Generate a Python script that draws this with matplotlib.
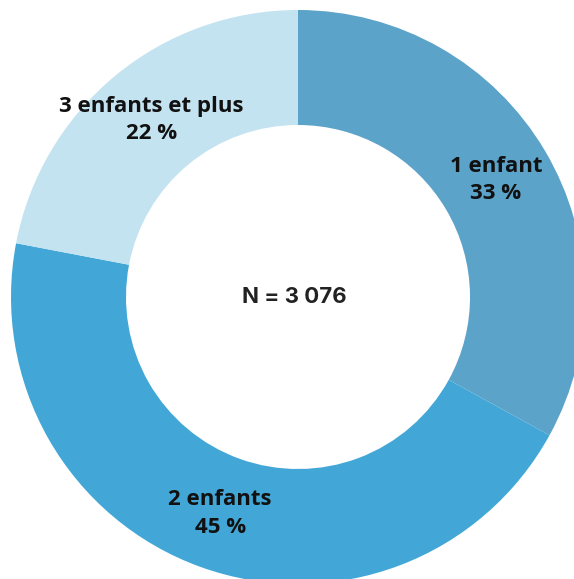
import numpy as np
import matplotlib.pyplot as plt

# data
categories = ["1 enfant", "2 enfants", "3 enfants et plus"]
shares = [33, 45, 22]
pct_labels = ["33 %", "45 %", "22 %"]
total_n = "N = 3 076"

colors = ["#5CA3CA", "#42A7D7", "#C4E3F0"]

W, H = 574, 579
CX, CY = 298, 297      # donut centre in pixels (from top-left)
R_OUT = 287
R_IN = 172

fig = plt.figure(figsize=(W / 100, H / 100), dpi=100, facecolor="white")
ax = fig.add_axes([0, 0, 1, 1])

wedges, _ = ax.pie(
    shares,
    colors=colors,
    startangle=90,
    counterclock=False,
    radius=R_OUT,
    wedgeprops=dict(width=R_OUT - R_IN, linewidth=0),
)

# pie resets the limits, so set them afterwards
ax.set_xlim(-CX, W - CX)
ax.set_ylim(-(H - CY), CY)
ax.set_aspect("equal")
ax.axis("off")

label_r = 230
for w, cat, pct in zip(wedges, categories, pct_labels):
    mid = np.deg2rad((w.theta1 + w.theta2) / 2)
    x, y = label_r * np.cos(mid), label_r * np.sin(mid)
    ax.text(x, y, cat + "\n" + pct, ha="center", va="center",
            fontsize=16, fontweight="bold", family="Open Sans",
            color="#111111", linespacing=1.4)

ax.text(-4, 0, total_n, ha="center", va="center",
        fontsize=16, fontweight="bold", family="Inter", color="#222222")

fig.savefig("out.png", dpi=100, facecolor="white")
